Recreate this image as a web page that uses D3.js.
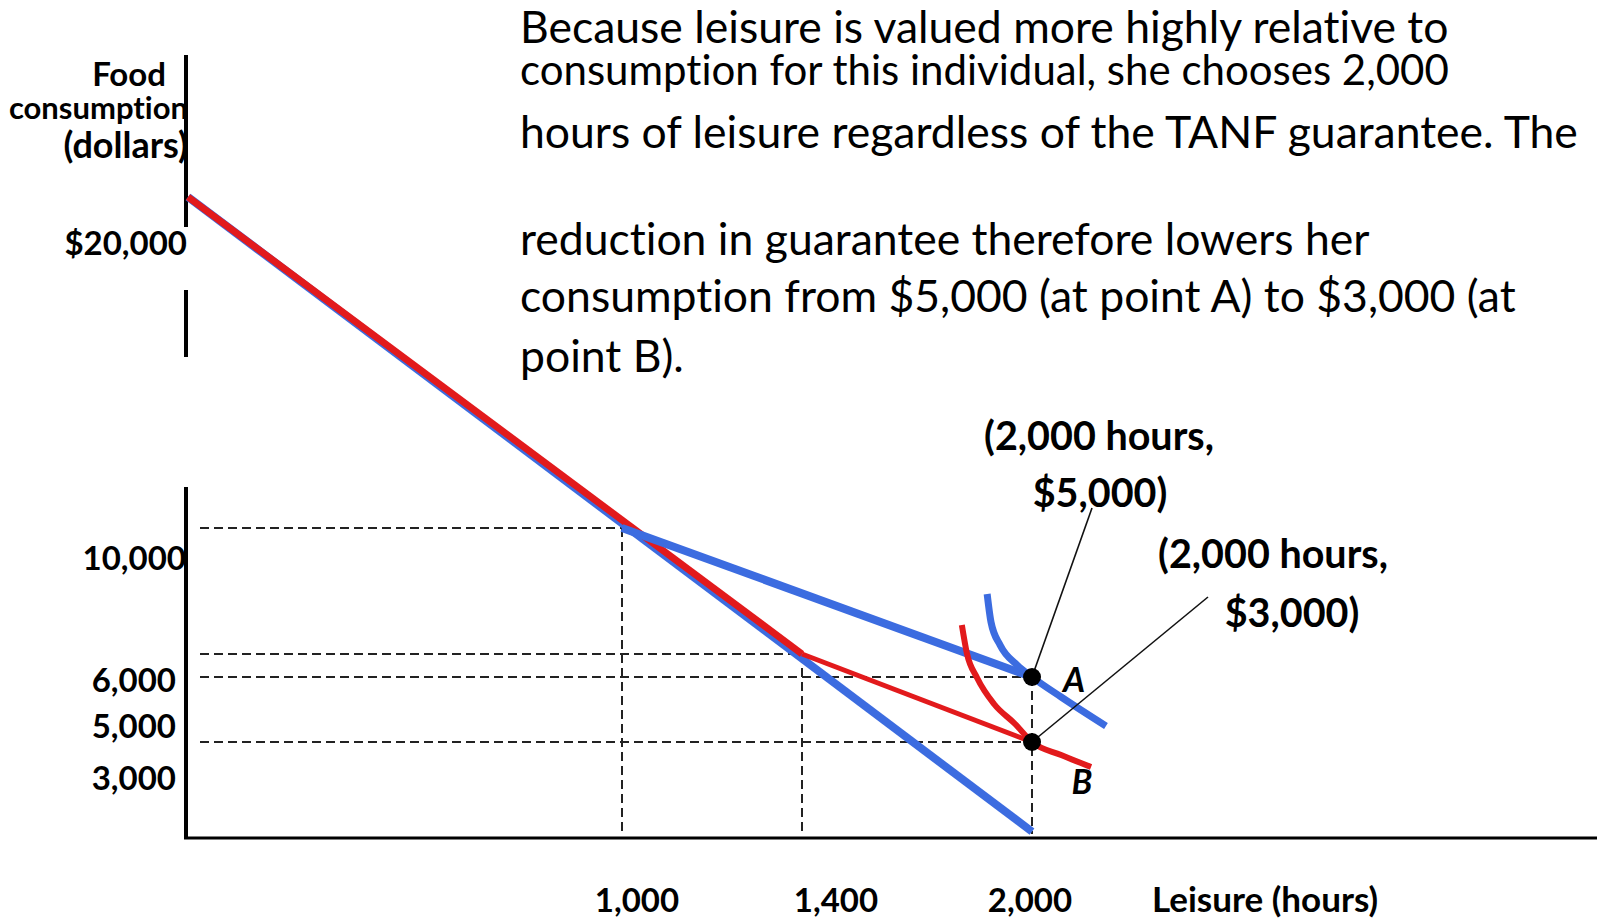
<!DOCTYPE html>
<html>
<head>
<meta charset="utf-8">
<script src="https://cdn.jsdelivr.net/npm/d3@7"></script>
<style>
  html, body { margin: 0; padding: 0; background: #fff; }
  svg { display: block; }
  text { font-variant-ligatures: none; }
</style>
</head>
<body>
<svg id="chart" width="1599" height="920"></svg>
<script>
// ---------------- DATA ----------------
const hoursTicks = [1000, 1400, 2000];
const hoursTickLabels = ["1,000", "1,400", "2,000"];
const consTicks = [20000, 10000, 6000, 5000, 3000];
const consTickLabels = ["$20,000", "10,000", "6,000", "5,000", "3,000"];

// budget line without welfare: leisure hours -> consumption dollars
const budgetHours = [0, 2000];
const budgetCons = [20000, 200];
// TANF with $5,000 guarantee (50% reduction)
const tanfHighHours = [1000, 2000];
const tanfHighCons = [10000, 5000];
// budget with $3,000 guarantee (red)
const redBudgetHours = [0, 1400];
const redBudgetCons = [20000, 6000];
const tanfLowHours = [1400, 2000];
const tanfLowCons = [6000, 3000];
// indifference curves
const icHighHours = [1883, 1893, 1917, 1961, 2000, 2076, 2193];
const icHighCons = [7905, 7016, 6280, 5522, 5000, 4385, 3492];
const icLowHours = [1817, 1830, 1857, 1901, 1956, 2000, 2076, 2154];
const icLowCons = [6921, 6032, 4969, 4169, 3554, 3000, 2594, 2219];
// chosen points
const choiceNames = ["A", "B"];
const choiceHours = [2000, 2000];
const choiceCons = [5000, 3000];
// guide (dashed) reference points
const guideHours = [1000, 1400, 2000, 2000];
const guideCons = [10000, 6000, 5000, 3000];

const paragraph = [
  "Because leisure is valued more highly relative to",
  "consumption for this individual, she chooses 2,000",
  "hours of leisure regardless of the TANF guarantee. The",
  "reduction in guarantee therefore lowers her",
  "consumption from $5,000 (at point A) to $3,000 (at",
  "point B)."
];
const annotA = ["(2,000 hours,", "$5,000)"];
const annotB = ["(2,000 hours,", "$3,000)"];

// ---------------- SCALES (schematic, piecewise-linear axes) ----------------
const x = d3.scaleLinear().domain([0, 1000, 1400, 2000]).range([188, 622, 802, 1032]);
const y = d3.scaleLinear().domain([0, 3000, 5000, 6000, 10000, 20000]).range([838, 742, 677, 654, 528, 197]);

const svg = d3.select("#chart");
const BLUE = "#3c6ce0", RED = "#e21a1c";
const FONT = "Lato, 'Open Sans', sans-serif";

const zip = (hs, cs) => hs.map((h, i) => ({h, c: cs[i]}));
const line = d3.line().x(d => x(d.h)).y(d => y(d.c));
const curve = d3.line().x(d => x(d.h)).y(d => y(d.c)).curve(d3.curveMonotoneX);

// ---------------- AXES FRAME ----------------
const axisX = x(0) - 2;
[[55, 227], [290, 357], [487, y(0)]].forEach(([a, b]) => {
  svg.append("line").attr("x1", axisX).attr("x2", axisX).attr("y1", a).attr("y2", b)
    .attr("stroke", "#000").attr("stroke-width", 4);
});
svg.append("line").attr("x1", axisX - 2).attr("x2", 1597).attr("y1", y(0)).attr("y2", y(0))
  .attr("stroke", "#000").attr("stroke-width", 3);

// ---------------- GUIDES ----------------
const guides = zip(guideHours, guideCons);
const g = svg.append("g").attr("stroke", "#222").attr("stroke-width", 2).attr("stroke-dasharray", "9,5").attr("fill", "none");
guides.forEach(d => {
  g.append("line").attr("x1", x(0) + 12).attr("x2", x(d.h)).attr("y1", y(d.c)).attr("y2", y(d.c));
});
[guides[0], guides[1], guides[2]].forEach(d => {
  g.append("line").attr("x1", x(d.h)).attr("x2", x(d.h)).attr("y1", y(d.c)).attr("y2", y(0) - 4);
});

// ---------------- LINES ----------------
svg.append("path").datum(zip(budgetHours, budgetCons)).attr("d", line)
  .attr("fill", "none").attr("stroke", BLUE).attr("stroke-width", 8);
svg.append("path").datum(zip(redBudgetHours, redBudgetCons)).attr("d", line)
  .attr("fill", "none").attr("stroke", RED).attr("stroke-width", 7);
svg.append("path").datum(zip(tanfLowHours, tanfLowCons)).attr("d", line)
  .attr("fill", "none").attr("stroke", RED).attr("stroke-width", 5);
svg.append("path").datum(zip(tanfHighHours, tanfHighCons)).attr("d", line)
  .attr("fill", "none").attr("stroke", BLUE).attr("stroke-width", 8);
svg.append("path").datum(zip(icHighHours, icHighCons)).attr("d", curve)
  .attr("fill", "none").attr("stroke", BLUE).attr("stroke-width", 7);
svg.append("path").datum(zip(icLowHours, icLowCons)).attr("d", curve)
  .attr("fill", "none").attr("stroke", RED).attr("stroke-width", 6);

// ---------------- LEADERS & POINTS ----------------
const choices = choiceNames.map((n, i) => ({n, h: choiceHours[i], c: choiceCons[i]}));
const leaderEnds = {A: [1092, 508], B: [1208, 597]};
choices.forEach(d => {
  svg.append("line").attr("x1", x(d.h)).attr("y1", y(d.c))
    .attr("x2", leaderEnds[d.n][0]).attr("y2", leaderEnds[d.n][1])
    .attr("stroke", "#111").attr("stroke-width", 1.6);
});
svg.selectAll("circle.pt").data(choices).join("circle").attr("class", "pt")
  .attr("cx", d => x(d.h)).attr("cy", d => y(d.c)).attr("r", 9).attr("fill", "#000");
const ptLabelOffset = {A: [42, 15], B: [50, 52]};
choices.forEach(d => {
  svg.append("text").attr("x", x(d.h) + ptLabelOffset[d.n][0]).attr("y", y(d.c) + ptLabelOffset[d.n][1])
    .attr("text-anchor", "middle").attr("font-family", FONT).attr("font-weight", 700)
    .attr("font-style", "italic").attr("font-size", 34).text(d.n);
});

// ---------------- TEXT ----------------
function txt(s, xx, yy, size, weight, anchor) {
  return svg.append("text").attr("x", xx).attr("y", yy).attr("font-family", FONT)
    .attr("font-size", size).attr("font-weight", weight).attr("text-anchor", anchor || "start")
    .attr("fill", "#000").text(s);
}
// y axis title
txt("Food", 166, 86, 33, 700, "end");
txt("consumption", 188, 119, 31, 700, "end");
txt("(dollars)", 188, 158, 36, 700, "end");

// y tick labels (nudged like the original schematic)
const yTickNudge = {20000: [0, 58], 10000: [-1, 42], 6000: [-11, 38], 5000: [-11, 61], 3000: [-11, 48]};
consTicks.forEach((v, i) => {
  txt(consTickLabels[i], axisX + 1 + yTickNudge[v][0], y(v) + yTickNudge[v][1], 33, 700, "end");
});
// x tick labels
const xTickNudge = {1000: 15, 1400: 34, 2000: -2};
hoursTicks.forEach((v, i) => {
  txt(hoursTickLabels[i], x(v) + xTickNudge[v], 912, 33, 700, "middle");
});
txt("Leisure (hours)", 1152, 912, 35, 700, "start");

// annotations
txt(annotA[0], 1099, 450, 39.5, 700, "middle");
txt(annotA[1], 1100, 507, 39.5, 700, "middle");
txt(annotB[0], 1273, 568, 39.5, 700, "middle");
txt(annotB[1], 1292, 627, 39.5, 700, "middle");

// paragraph
const paraBaselines = [43, 85, 148, 255, 312, 372];
const paraSizes = [44.5, 42, 44.5, 44.5, 44.5, 44.5];
paragraph.forEach((s, i) => txt(s, 520, paraBaselines[i], paraSizes[i], 400, "start"));
</script>
</body>
</html>
